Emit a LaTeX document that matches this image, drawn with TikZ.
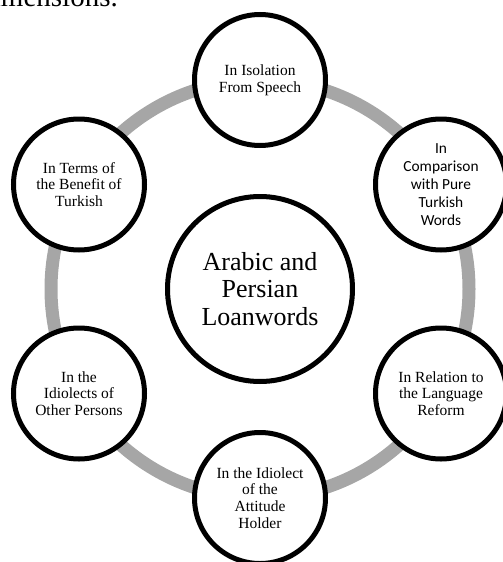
\documentclass[tikz,border=0pt]{standalone}
\usepackage{fontspec}
\setmainfont{Liberation Serif}
\newfontfamily\calib{Carlito}
\begin{document}
\begin{tikzpicture}[x=1pt,y=-1pt,
  sat/.style={circle,draw=black,line width=5pt,fill=white,minimum size=131pt,inner sep=0pt,align=center,font=\fontsize{15.5}{16.7}\selectfont},
  hub/.style={circle,draw=black,line width=5pt,fill=white,minimum size=185pt,inner sep=0pt,align=center,font=\fontsize{26}{27.5}\selectfont},
  ring/.style={draw=ringgray,line width=13pt}]
\definecolor{ringgray}{HTML}{A6A6A6}
\useasboundingbox (0,0) rectangle (503,562);
\clip (0,0) rectangle (503,562);
\coordinate (c) at (260,289);
\node[anchor=base east,font=\fontsize{29}{30}\selectfont,inner sep=0pt] (top) at (118,6) {dimensions.};
\draw[ring] (c) circle[radius=209];
\node[hub] (hub) at (c) {Arabic and\\Persian\\Loanwords};
\node[sat] (s1) at (260,80) {In Isolation\\From Speech};
\node[sat,font=\calib\fontsize{15.4}{18}\selectfont] (s2) at (441,184.5) {In\\Comparison\\with Pure\\Turkish\\Words};
\node[sat] (s3) at (441,393.5) {In Relation to\\the Language\\Reform};
\node[sat] (s4) at (260,498) {In the Idiolect\\of the\\Attitude\\Holder};
\node[sat] (s5) at (79,393.5) {In the\\Idiolects of\\Other Persons};
\node[sat] (s6) at (79,184.5) {In Terms of\\the Benefit of\\Turkish};
\end{tikzpicture}
\end{document}
